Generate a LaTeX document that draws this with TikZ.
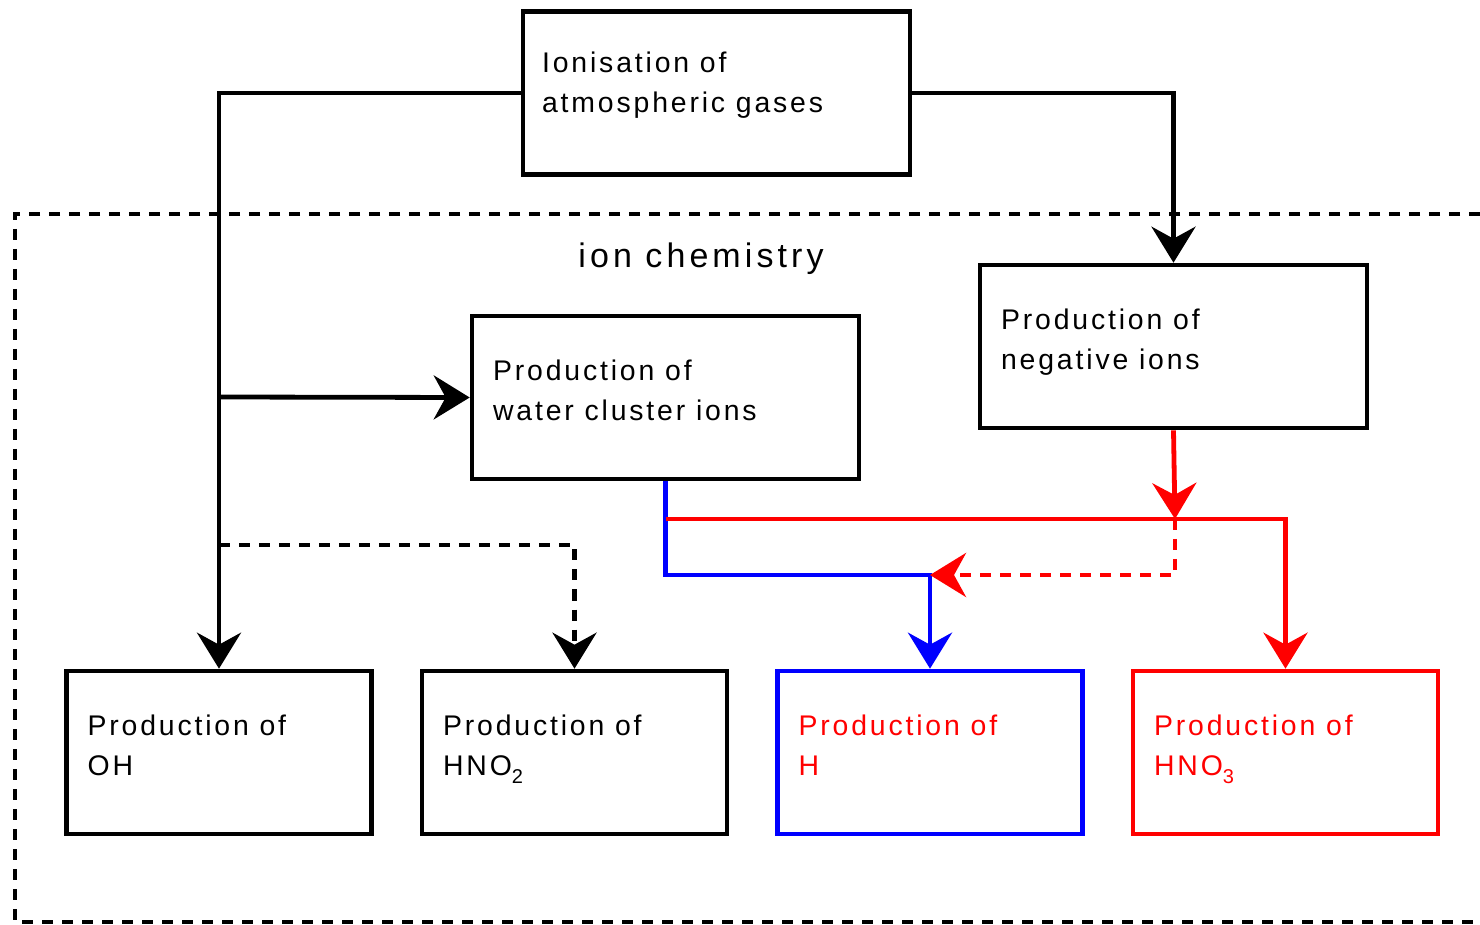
\documentclass[tikz,border=0pt]{standalone}
\usepackage{fontspec}
\setmainfont{Liberation Sans}
\newfontfamily\boxfont[LetterSpace=10]{Liberation Sans}
\newfontfamily\titlefont[LetterSpace=12]{Liberation Sans}
\newcommand{\mysub}[1]{\raisebox{-0.5ex}{\fontsize{10}{10}\selectfont #1}}
\usetikzlibrary{arrows.meta,calc}
\begin{document}
\begin{tikzpicture}[x=0.5pt,y=-0.5pt,
  box/.style={draw, line width=2.3pt, minimum width=193.5pt, minimum height=81.5pt, inner sep=0pt},
  sbox/.style={box, minimum width=152.5pt},
  txt/.style={anchor=base west, align=left, inner sep=0pt, font=\boxfont\fontsize{14.2}{20}\selectfont},
  conn/.style={line width=2.4pt, -{Stealth[length=18pt,width=22pt,inset=6pt]}},
  plain/.style={line width=2.3pt},
  dsh/.style={dash pattern=on 5.5pt off 4.5pt}]
\useasboundingbox (0,0) rectangle (1480,925);
% frame
\draw[plain, dsh] (1480,214) -- (15,214) -- (15,922) -- (1480,922);
\node[anchor=base, inner sep=0pt, font=\titlefont\fontsize{17}{20}\selectfont] (title) at (701,268) {ion chemistry};
% boxes
\node[box] (top) at (716.5,93) {};
\node[box] (neg) at (1173.5,346.5) {};
\node[box] (wat) at (665.5,397.5) {};
\node[sbox] (oh) at (219,752.5) {};
\node[sbox] (hno2) at (574.5,752.5) {};
\node[sbox, draw=blue] (h) at (930,752.5) {};
\node[sbox, draw=red] (hno3) at (1285.5,752.5) {};
% texts (anchor = baseline of last line)
\node[txt] (ttop) at ($(top.north west)+(21,103)$) {Ionisation of\\atmospheric gases};
\node[txt] (tneg) at ($(neg.north west)+(23,107)$) {Production of\\negative ions};
\node[txt] (twat) at ($(wat.north west)+(23,107)$) {Production of\\water cluster ions};
\node[txt] (toh) at ($(oh.north west)+(23,107)$) {Production of\\OH};
\node[txt] (thno2) at ($(hno2.north west)+(23,107)$) {Production of\\HNO\mysub{2}};
\node[txt, text=red] (th) at ($(h.north west)+(23,107)$) {Production of\\H};
\node[txt, text=red] (thno3) at ($(hno3.north west)+(23,107)$) {Production of\\HNO\mysub{3}};
% junctions
\coordinate (j1) at (219,397);
\coordinate (j2) at (219,545);
\coordinate (hb) at (930,575);
\coordinate (rj) at (1175,519);
\coordinate (r0) at (665.5,519);
% connectors
\draw[conn] (top.west) -| (oh.north);
\draw[conn] (j1) -- (wat.west);
\draw[conn, dsh] (j2) -| (hno2.north);
\draw[conn] (top.east) -| (neg.north);
\draw[conn, blue] (wat.south) |- (hb) -- (h.north);
\draw[conn, red] (r0) -| (hno3.north);
\draw[conn, red, dsh] (rj) |- (hb);
\draw[conn, red] (neg.south) -- (rj);
\end{tikzpicture}
\end{document}
